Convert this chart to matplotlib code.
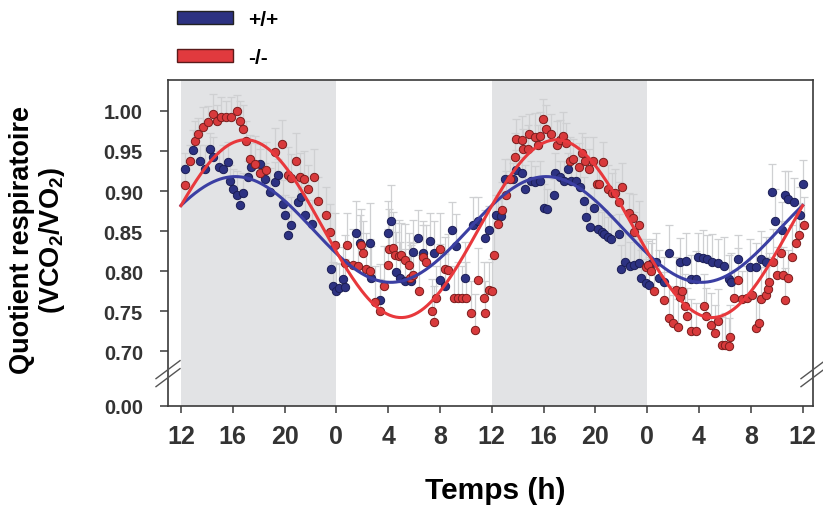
import numpy as np
import matplotlib
matplotlib.use("Agg")
import matplotlib.pyplot as plt
from matplotlib.patches import Patch

plt.rcParams['font.family'] = ['Liberation Sans', 'DejaVu Sans']
plt.rcParams['mathtext.fontset'] = 'custom'
plt.rcParams['mathtext.rm'] = 'Liberation Sans:bold'
plt.rcParams['mathtext.bf'] = 'Liberation Sans:bold'

# ---------------- data (hours since 12:00 of day 1) ----------------
wt_t = [0.3, 0.95, 1.47, 1.85, 2.24, 2.5, 2.9, 3.26, 3.65, 3.8,
        4.0, 4.3, 4.55, 4.8, 5.2, 5.4, 6.1, 6.5, 6.9, 7.25,
        7.5, 7.9, 8.0, 8.3, 8.5, 9.05, 9.3, 9.55, 10.1, 11.6,
        11.75, 12.0, 12.2, 12.5, 12.7, 13.55, 13.8, 14.6, 14.7, 15.35,
        16.0, 16.2, 16.6, 16.9, 17.3, 17.8, 17.9, 18.3, 18.7, 19.2,
        19.5, 20.0, 20.4, 20.9, 21.2, 21.9, 22.55, 22.9, 23.45, 23.8,
        24.35, 24.7, 25.0, 25.6, 25.9, 26.3, 26.6, 27.0, 27.3, 27.7,
        28.0, 28.3, 28.8, 28.9, 29.3, 29.6, 29.9, 30.1, 30.5, 30.8,
        31.1, 31.3, 31.6, 31.9, 32.2, 32.5, 32.7, 33.0, 33.2, 33.8,
        34.0, 34.3, 34.7, 35.0, 35.4, 35.5, 35.9, 36.1, 36.4, 36.7,
        36.9, 37.3, 37.7, 38.5, 39.0, 39.4, 39.8, 39.9, 40.3, 40.6,
        41.0, 41.5, 41.9, 42.3, 42.5, 43.0, 43.9, 44.4, 44.8, 45.2,
        45.6, 45.9, 46.4, 46.6, 46.9, 47.3, 47.8, 48.0]
wt_rq = [0.928, 0.951, 0.938, 0.928, 0.953, 0.942, 0.930, 0.928, 0.936, 0.913,
         0.903, 0.895, 0.882, 0.897, 0.918, 0.930, 0.934, 0.915, 0.899, 0.911,
         0.920, 0.884, 0.870, 0.845, 0.857, 0.886, 0.893, 0.870, 0.859, 0.803,
         0.781, 0.775, 0.779, 0.790, 0.780, 0.847, 0.835, 0.835, 0.791, 0.764,
         0.847, 0.862, 0.799, 0.791, 0.788, 0.788, 0.824, 0.841, 0.822, 0.837,
         0.822, 0.789, 0.781, 0.851, 0.831, 0.791, 0.857, 0.862, 0.841, 0.851,
         0.870, 0.869, 0.915, 0.915, 0.926, 0.922, 0.903, 0.913, 0.911, 0.913,
         0.879, 0.878, 0.895, 0.922, 0.917, 0.913, 0.928, 0.913, 0.913, 0.905,
         0.888, 0.868, 0.855, 0.879, 0.853, 0.849, 0.846, 0.842, 0.840, 0.846,
         0.803, 0.812, 0.806, 0.808, 0.810, 0.791, 0.785, 0.783, 0.810, 0.812,
         0.791, 0.787, 0.822, 0.811, 0.813, 0.790, 0.790, 0.818, 0.816, 0.815,
         0.811, 0.810, 0.807, 0.790, 0.787, 0.815, 0.805, 0.805, 0.815, 0.812,
         0.899, 0.862, 0.851, 0.895, 0.890, 0.886, 0.870, 0.909]
wt_err = [0.020, 0.025, 0.020, 0.030, 0.020, 0.025, 0.020, 0.030, 0.025, 0.020,
          0.025, 0.030, 0.020, 0.025, 0.020, 0.030, 0.025, 0.020, 0.030, 0.025,
          0.020, 0.030, 0.025, 0.030, 0.035, 0.025, 0.030, 0.035, 0.030, 0.030,
          0.030, 0.035, 0.030, 0.040, 0.035, 0.040, 0.035, 0.050, 0.040, 0.045,
          0.040, 0.045, 0.050, 0.045, 0.040, 0.045, 0.040, 0.035, 0.040, 0.035,
          0.040, 0.045, 0.040, 0.035, 0.040, 0.045, 0.035, 0.030, 0.035, 0.030,
          0.025, 0.030, 0.025, 0.020, 0.025, 0.020, 0.030, 0.025, 0.020, 0.025,
          0.030, 0.025, 0.020, 0.025, 0.020, 0.025, 0.020, 0.025, 0.030, 0.025,
          0.030, 0.025, 0.030, 0.025, 0.030, 0.025, 0.030, 0.025, 0.030, 0.025,
          0.030, 0.035, 0.030, 0.035, 0.030, 0.035, 0.030, 0.035, 0.030, 0.035,
          0.035, 0.030, 0.035, 0.030, 0.035, 0.030, 0.035, 0.030, 0.035, 0.030,
          0.035, 0.030, 0.035, 0.030, 0.035, 0.030, 0.035, 0.030, 0.035, 0.030,
          0.035, 0.040, 0.035, 0.030, 0.035, 0.030, 0.035, 0.030]

ko_t = [0.3, 0.7, 1.1, 1.3, 1.7, 2.1, 2.5, 2.8, 3.1, 3.5,
        3.9, 4.3, 4.55, 4.8, 5.05, 5.3, 5.7, 6.1, 6.6, 7.25,
        7.8, 8.3, 8.5, 8.9, 9.2, 9.5, 9.8, 10.3, 10.6, 11.2,
        11.5, 11.9, 12.7, 12.8, 13.3, 13.7, 13.9, 14.05, 14.3, 14.6,
        15.0, 15.35, 15.7, 16.0, 16.1, 16.4, 16.5, 16.8, 17.0, 17.3,
        17.6, 17.7, 17.95, 18.4, 18.7, 18.95, 19.35, 19.5, 19.7, 20.0,
        20.4, 20.6, 21.1, 21.4, 21.7, 22.0, 22.4, 22.7, 22.95, 23.4,
        23.5, 23.8, 24.0, 24.2, 24.5, 24.8, 25.1, 25.4, 25.8, 25.9,
        26.3, 26.4, 26.8, 26.9, 27.3, 27.55, 27.7, 27.95, 28.2, 28.6,
        29.0, 29.3, 29.5, 29.7, 30.0, 30.3, 30.7, 31.0, 31.2, 31.5,
        31.85, 32.1, 32.3, 32.6, 33.0, 33.3, 33.5, 33.8, 34.05, 34.6,
        34.9, 35.0, 35.4, 35.9, 36.05, 36.3, 36.55, 37.3, 37.7, 38.0,
        38.2, 38.4, 38.5, 38.7, 38.9, 39.1, 39.4, 39.8, 40.4, 40.5,
        40.9, 41.2, 41.5, 41.8, 42.0, 42.3, 42.4, 42.7, 43.0, 43.3,
        43.7, 44.1, 44.4, 44.6, 44.8, 45.2, 45.3, 45.4, 45.7, 46.0,
        46.3, 46.5, 46.6, 46.9, 47.2, 47.5, 47.7, 48.1]
ko_rq = [0.907, 0.937, 0.963, 0.971, 0.980, 0.986, 0.996, 0.988, 0.992, 0.992,
         0.992, 1.000, 0.988, 0.978, 0.963, 0.940, 0.934, 0.922, 0.926, 0.949,
         0.959, 0.920, 0.916, 0.937, 0.917, 0.915, 0.903, 0.918, 0.888, 0.870,
         0.849, 0.832, 0.810, 0.832, 0.808, 0.807, 0.832, 0.822, 0.803, 0.800,
         0.762, 0.750, 0.781, 0.808, 0.828, 0.829, 0.820, 0.819, 0.820, 0.814,
         0.808, 0.791, 0.795, 0.775, 0.818, 0.812, 0.750, 0.737, 0.766, 0.828,
         0.803, 0.801, 0.766, 0.766, 0.766, 0.766, 0.748, 0.727, 0.789, 0.766,
         0.748, 0.776, 0.775, 0.820, 0.859, 0.876, 0.895, 0.915, 0.942, 0.965,
         0.964, 0.953, 0.952, 0.971, 0.967, 0.958, 0.969, 0.990, 0.978, 0.971,
         0.958, 0.964, 0.969, 0.960, 0.938, 0.940, 0.930, 0.947, 0.938, 0.928,
         0.938, 0.909, 0.909, 0.936, 0.903, 0.898, 0.898, 0.886, 0.905, 0.872,
         0.866, 0.849, 0.857, 0.805, 0.808, 0.800, 0.775, 0.764, 0.741, 0.735,
         0.777, 0.730, 0.768, 0.775, 0.756, 0.744, 0.725, 0.725, 0.756, 0.744,
         0.733, 0.723, 0.738, 0.708, 0.708, 0.707, 0.718, 0.766, 0.789, 0.765,
         0.766, 0.770, 0.729, 0.735, 0.765, 0.770, 0.778, 0.787, 0.812, 0.795,
         0.822, 0.795, 0.764, 0.791, 0.818, 0.835, 0.845, 0.857]
ko_err = [0.025, 0.020, 0.025, 0.020, 0.025, 0.020, 0.025, 0.020, 0.025, 0.020,
          0.025, 0.020, 0.025, 0.030, 0.025, 0.030, 0.035, 0.030, 0.035, 0.030,
          0.030, 0.035, 0.030, 0.035, 0.030, 0.035, 0.030, 0.035, 0.030, 0.035,
          0.035, 0.040, 0.035, 0.040, 0.045, 0.040, 0.045, 0.040, 0.045, 0.040,
          0.045, 0.040, 0.050, 0.045, 0.050, 0.045, 0.040, 0.045, 0.040, 0.045,
          0.040, 0.045, 0.040, 0.045, 0.040, 0.045, 0.040, 0.045, 0.040, 0.045,
          0.040, 0.045, 0.040, 0.045, 0.040, 0.045, 0.040, 0.045, 0.040, 0.045,
          0.040, 0.035, 0.040, 0.035, 0.030, 0.035, 0.030, 0.025, 0.030, 0.025,
          0.030, 0.025, 0.030, 0.025, 0.030, 0.025, 0.030, 0.025, 0.030, 0.025,
          0.030, 0.025, 0.030, 0.025, 0.030, 0.025, 0.030, 0.025, 0.030, 0.025,
          0.030, 0.025, 0.030, 0.025, 0.030, 0.025, 0.030, 0.025, 0.030, 0.025,
          0.030, 0.025, 0.030, 0.035, 0.030, 0.035, 0.040, 0.035, 0.040, 0.035,
          0.040, 0.035, 0.040, 0.035, 0.040, 0.035, 0.040, 0.035, 0.040, 0.035,
          0.040, 0.035, 0.040, 0.035, 0.040, 0.035, 0.040, 0.035, 0.040, 0.035,
          0.040, 0.035, 0.040, 0.035, 0.040, 0.035, 0.040, 0.035, 0.040, 0.035,
          0.040, 0.035, 0.040, 0.035, 0.040, 0.035, 0.040, 0.035]

# cosinor fit parameters: mesor, amplitude, peak (h)
wt_fit = (0.852, 0.066, 4.2)
ko_fit = (0.853, 0.111, 5.0)

dark_phases = [(0, 12), (24, 36)]
xtick_pos = [0, 4, 8, 12, 16, 20, 24, 28, 32, 36, 40, 44, 48]
xtick_lab = ['12', '16', '20', '0', '4', '8', '12', '16', '20', '0', '4', '8', '12']
ytick_pos = [0.0, 0.70, 0.75, 0.80, 0.85, 0.90, 0.95, 1.00]
labels = ['+/+', '-/-']

# ---------------- broken y scale ----------------
B, Y0 = 0.67, 0.6316


def fwd(y):
    y = np.asarray(y, dtype=float)
    return np.where(y >= B, y, Y0 + y * (B - Y0) / B)


def inv(u):
    u = np.asarray(u, dtype=float)
    return np.where(u >= B, u, (u - Y0) * B / (B - Y0))


BLUE_F, BLUE_E, BLUE_L = '#2d3282', '#1b1e55', '#3b3fa3'
RED_F, RED_E, RED_L = '#d83a3c', '#7a1c1c', '#e8383c'
DARK = '#3a3a3a'

fig = plt.figure(figsize=(8.23, 5.06), dpi=100)
ax = fig.add_axes([168 / 823, 1 - 407 / 506, 645 / 823, 326 / 506])
ax.set_yscale('function', functions=(fwd, inv))
ax.set_xlim(-1.0, 48.8)
ax.set_ylim(0.0, 1.0386)

for a, b in dark_phases:
    ax.axvspan(a, b, color='#e2e3e5', lw=0, zorder=0)

for t, v, e, fc in [(wt_t, wt_rq, wt_err, BLUE_F), (ko_t, ko_rq, ko_err, RED_F)]:
    ax.errorbar(t, v, yerr=[np.zeros(len(e)), e], fmt='none', ecolor='#cfd0d2',
                elinewidth=0.9, capsize=3, capthick=0.9, zorder=1)

ax.scatter(wt_t, wt_rq, s=36, facecolor=BLUE_F, edgecolor=BLUE_E, linewidth=0.7, zorder=3)
ax.scatter(ko_t, ko_rq, s=36, facecolor=RED_F, edgecolor=RED_E, linewidth=0.7, zorder=3)

tt = np.linspace(0, 48, 400)
for (m, amp, pk), col in [(wt_fit, BLUE_L), (ko_fit, RED_L)]:
    ax.plot(tt, m + amp * np.cos(2 * np.pi * (tt - pk) / 24), color=col, lw=2.2, zorder=4)

ax.set_xticks(xtick_pos)
ax.set_xticklabels(xtick_lab, fontsize=18, fontweight='bold',
                   family=['Liberation Sans Narrow', 'Liberation Sans'], color='#333333')
ax.set_yticks(ytick_pos)
ax.set_yticklabels(['%.2f' % v for v in ytick_pos], fontsize=14.5, fontweight='bold', color='#333333')
ax.tick_params(axis='x', direction='out', length=5, width=1.1, color=DARK, pad=8)
ax.tick_params(axis='y', direction='out', length=6, width=1.1, color=DARK, pad=12)
for s in ax.spines.values():
    s.set_color(DARK)
    s.set_linewidth(1.2)

# break marks
ybrk = (fwd(0.672) - fwd(0.0)) / (fwd(1.0386) - fwd(0.0))
dx, dy = 12 / 645, 9 / 326
for xs in (0.0, 1.0):
    for off in (-4 / 326, 4 / 326):
        ax.plot([xs - dx, xs + dx], [ybrk + off - dy, ybrk + off + dy], color='#555555',
                lw=1.0, transform=ax.transAxes, clip_on=False, zorder=5)

fig.text(495 / 823, 1 - 491 / 506, 'Temps (h)', fontsize=21.5, fontweight='bold',
         ha='center', va='center')
fig.text(38 / 823, 1 - 240 / 506, 'Quotient respiratoire\n(VCO$_2$/VO$_2$)', fontsize=19.5,
         fontweight='bold', rotation=90, ha='center', va='center', multialignment='center',
         linespacing=1.1)

handles = [Patch(facecolor=BLUE_F, edgecolor='#222222', lw=1.0),
           Patch(facecolor='#e13a3e', edgecolor='#5a1a1a', lw=1.0)]
leg = fig.legend(handles, labels, loc='upper left', bbox_to_anchor=(177 / 823, 1 - 11 / 506),
                 frameon=False, borderpad=0, borderaxespad=0, handlelength=2.7,
                 handleheight=0.55, handletextpad=0.7, labelspacing=0.9,
                 prop={'weight': 'bold', 'size': 15})

fig.savefig('out.png', dpi=100)
